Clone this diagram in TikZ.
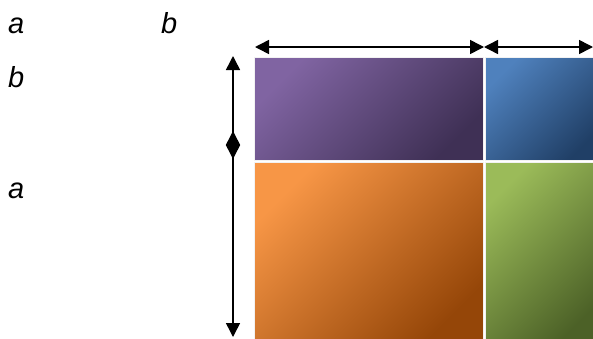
\documentclass[tikz,border=0pt]{standalone}
\usepackage{fontspec}
\setmainfont{Liberation Sans}
\usetikzlibrary{arrows.meta}
\definecolor{purA}{HTML}{8064A2}\definecolor{purB}{HTML}{3F3055}
\definecolor{bluA}{HTML}{4F81BD}\definecolor{bluB}{HTML}{203F66}
\definecolor{oraA}{HTML}{F79646}\definecolor{oraB}{HTML}{954608}
\definecolor{greA}{HTML}{9BBB59}\definecolor{greB}{HTML}{4C6127}
\tikzset{
  tile/.style={draw=gray!10, line width=1pt, top color=#1A, bottom color=#1B, shading angle=45},
  lbl/.style={inner sep=0pt, anchor=base west, font=\fontsize{29}{31}\selectfont\itshape},
  dim/.style={line width=1.5pt, {Triangle[length=14pt,width=14pt]}-{Triangle[length=14pt,width=14pt]}},
}
\begin{document}
\begin{tikzpicture}[x=1pt,y=-1pt]
\useasboundingbox (0,0) rectangle (593,338);
\shade[tile=pur] (254.5,57.5) rectangle (483.5,160.5);
\shade[tile=blu] (485.5,57.5) rectangle (600,160.5);
\shade[tile=ora] (254.5,162.5) rectangle (483.5,345);
\shade[tile=gre] (485.5,162.5) rectangle (600,345);
\node[lbl] (a1) at (8,33) {a};
\node[lbl] (b1) at (161,33) {b};
\node[lbl] (b2) at (8,87) {b};
\node[lbl] (a2) at (8,198) {a};
\coordinate (hl) at (255,47);
\coordinate (hm) at (484,47);
\coordinate (hr) at (593,47);
\coordinate (vt) at (233,56);
\coordinate (vmd) at (233,159);
\coordinate (vmu) at (233,131);
\coordinate (vb) at (233,337);
\draw[dim] (hl) -- (hm);
\draw[dim] (hm) -- (hr);
\draw[dim] (vt) -- (vmd);
\draw[dim] (vmu) -- (vb);
\end{tikzpicture}
\end{document}
